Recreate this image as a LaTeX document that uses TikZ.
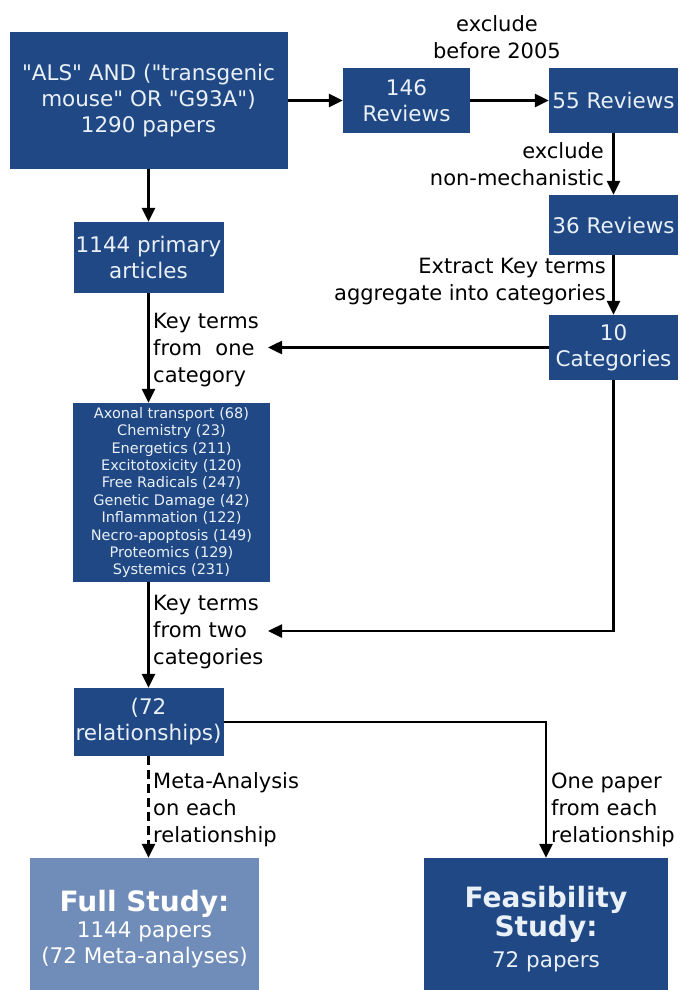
\documentclass[tikz,border=0pt]{standalone}
\usepackage{fontspec}
\setmainfont{DejaVu Sans}[Ligatures=TeXOff]
\usetikzlibrary{arrows.meta}
\definecolor{boxblue}{RGB}{31,72,132}
\definecolor{paleblue}{RGB}{112,141,186}
\definecolor{boxtext}{RGB}{234,240,248}

\begin{document}
\begin{tikzpicture}[x=1pt,y=-1pt,
    box/.style={fill=boxblue, text=boxtext, inner sep=0pt, align=center,
      font=\fontsize{21.5}{26}\selectfont},
    lbl/.style={inner sep=0pt, font=\fontsize{21}{27}\selectfont},
    arr/.style={line width=2.5pt, -{Triangle[length=14pt,width=13pt]}}]
  \useasboundingbox (0,0) rectangle (681,990);
  % Search and review boxes
  \node[box, minimum width=278pt, minimum height=136pt] (als) at (148.5,100.5)
    {"ALS" AND ("transgenic\\mouse" OR "G93A")\\1290 papers};
  \node[box, minimum width=127pt, minimum height=65pt] (rev146) at (406.5,100.5) {146\\Reviews};
  \node[box, minimum width=129pt, minimum height=65pt] (rev55) at (613.5,100.5) {55 Reviews};
  \node[box, minimum width=129pt, minimum height=60pt] (rev36) at (613.5,225) {36 Reviews};
  \node[box, minimum width=129pt, minimum height=65pt] (cat10) at (613.5,347.5) {10\\Categories};
  % Primary articles and categories
  \node[box, minimum width=150pt, minimum height=71pt] (prim) at (148.5,257.5) {1144 primary\\articles};
  \node[box, minimum width=197pt, minimum height=179pt, font=\fontsize{14.5}{17.4}\selectfont]
    (cats) at (171.5,492.5)
    {Axonal transport (68)\\Chemistry (23)\\Energetics (211)\\Excitotoxicity (120)\\
     Free Radicals (247)\\Genetic Damage (42)\\Inflammation (122)\\Necro-apoptosis (149)\\
     Proteomics (129)\\Systemics (231)};
  \node[box, minimum width=150pt, minimum height=68pt] (rel72) at (148.5,722) {(72\\relationships)};
  % Study boxes
  \node[box, fill=paleblue, text=white, minimum width=229pt, minimum height=142pt] (full) at (144.5,929)
    {{\fontsize{28}{30}\selectfont\bfseries Full Study:}\\1144 papers\\(72 Meta-analyses)};
  \node[box, minimum width=244pt, minimum height=142pt] (feas) at (546,929)
    {{\fontsize{28}{30}\selectfont\bfseries Feasibility}\\{\fontsize{28}{30}\selectfont\bfseries Study:}\\[5pt]72 papers};
  % Free arrow ends
  \coordinate (tipone) at (268,347.5);
  \coordinate (tiptwo) at (268,631);
  % Arrows
  \draw[arr] (als) -- (rev146);
  \draw[arr] (rev146) -- (rev55);
  \draw[arr] (rev55) -- (rev36);
  \draw[arr] (rev36) -- (cat10);
  \draw[arr] (als) -- (prim);
  \draw[arr] (cat10) -- (tipone);
  \draw[arr] (prim.south) -- (prim.south |- cats.north);
  \draw[arr] (cat10.south) |- (tiptwo);
  \draw[arr] (rel72.north |- cats.south) -- (rel72.north);
  \draw[arr] (rel72.east) -| (feas.north);
  \draw[arr, dash pattern=on 9pt off 5pt] (rel72.south) -- (rel72.south |- full.north);
  % Labels
  \node[lbl, align=center] (lexcl) at (497,37) {exclude\\before 2005};
  \node[lbl, align=right, anchor=east] (lmech) at (604,164.5) {exclude\\non-mechanistic};
  \node[lbl, align=right, anchor=east] (lextr) at (606,281.5) {Extract Key terms\\aggregate into categories};
  \node[lbl, align=left, anchor=west] (lone) at (153,350) {Key terms\\from\ \ one\\category};
  \node[lbl, align=left, anchor=west] (ltwo) at (153,632) {Key terms\\from two\\categories};
  \node[lbl, align=left, anchor=west] (lmeta) at (153,810) {Meta-Analysis\\on each\\relationship};
  \node[lbl, align=left, anchor=west] (lpaper) at (551,810) {One paper\\from each\\relationship};
\end{tikzpicture}
\end{document}
